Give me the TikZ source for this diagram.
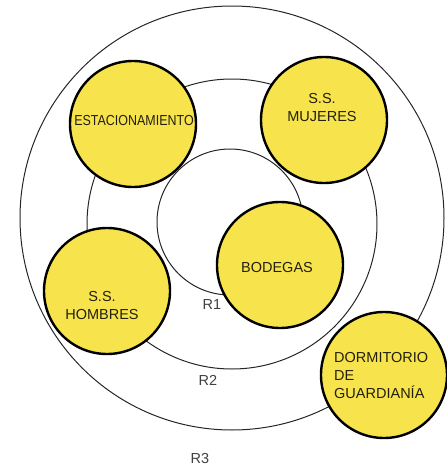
\documentclass[tikz,border=0pt]{standalone}
\usepackage{fontspec}
\setmainfont{Liberation Sans}
\usepackage{tikz}
\definecolor{amarillo}{RGB}{247,227,75}
\definecolor{texto}{RGB}{35,32,15}
\tikzstyle{anillo} = [draw=black!85, line width=1pt]
\tikzstyle{zona} = [circle, draw=black, fill=amarillo, line width=2.4pt, minimum size=126pt, inner sep=0pt]
\tikzstyle{rotulo} = [text=texto, font=\txt, inner sep=0pt]
\tikzstyle{radio} = [text=black!75, font=\txt]
\newcommand{\txt}{\fontsize{14.5}{18}\selectfont}

\begin{document}
\begin{tikzpicture}[x=1pt, y=-1pt]
\useasboundingbox (0,0) rectangle (447,466);
% anillos
\coordinate (c3) at (232,218);
\coordinate (c2) at (232,224);
\coordinate (c1) at (230,222);
\draw[anillo] (c3) circle (212pt);
\draw[anillo] (c2) circle (145pt);
\draw[anillo] (c1) circle (73pt);

% zonas
\node[zona] (estac) at (133,124) {};
\node[zona] (mujeres) at (324,120) {};
\node[zona] (bodegas) at (280,265) {};
\node[zona] (hombres) at (107,291) {};
\node[zona] (dormit) at (384,375) {};

\node[rotulo] (estac-t) at (134,121) {\scalebox{0.86}[1]{ESTACIONAMIENTO}};
\node[rotulo, align=center] (mujeres-t) at (322,108) {S.S.\\ MUJERES};
\node[rotulo] (bodegas-t) at (277,268) {BODEGAS};
\node[rotulo, align=center] (hombres-t) at (102,306) {S.S.\\ HOMBRES};
\node[rotulo, align=left, anchor=west] (dormit-t) at (334,376) {DORMITORIO\\ DE\\ GUARDIAN\'IA};

% radios
\node[radio] (r1) at (212,305) {R1};
\node[radio] (r2) at (208,380) {R2};
\node[radio] (r3) at (200,459) {R3};
\end{tikzpicture}
\end{document}
